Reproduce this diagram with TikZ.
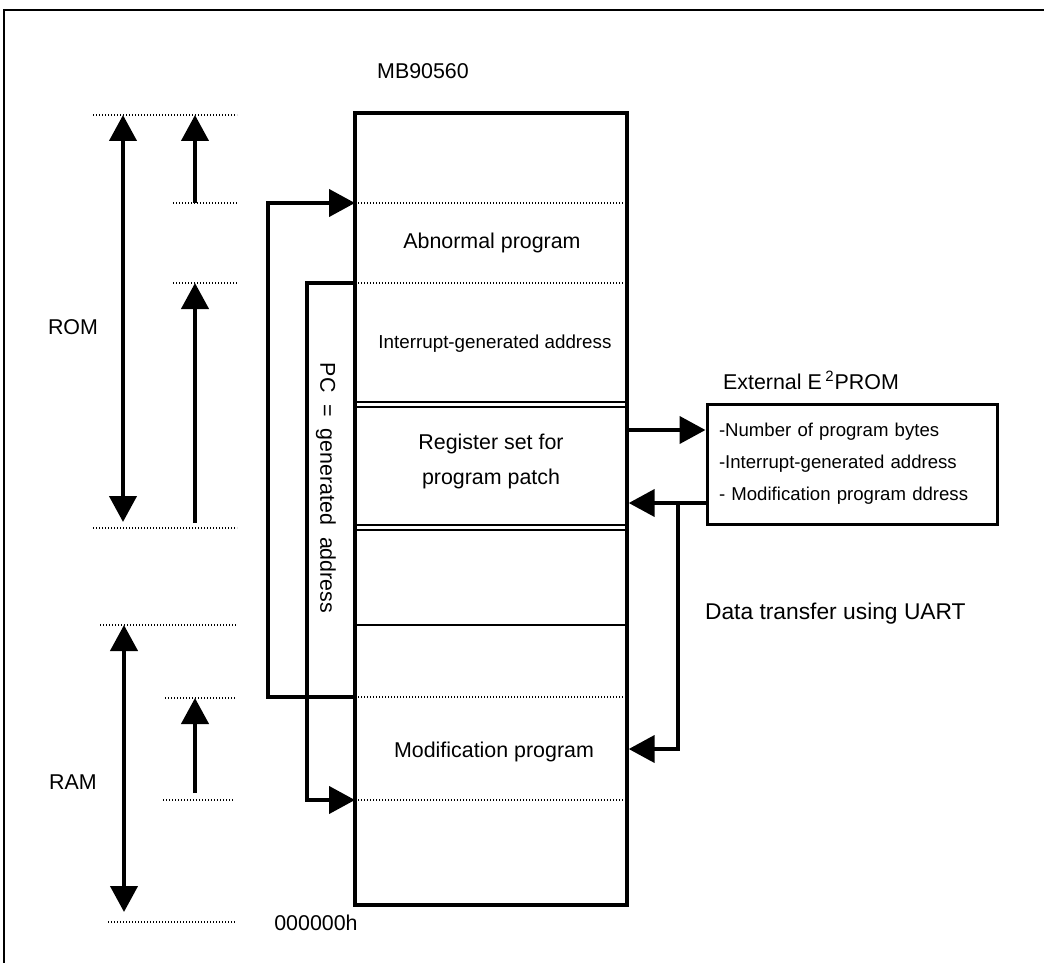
\documentclass[tikz,border=0pt]{standalone}
\usepackage{fontspec}
\setmainfont{Liberation Sans}
\usetikzlibrary{arrows.meta,positioning,calc}
\tikzset{>={Triangle[length=13pt,width=13.5pt]},bus/.style={line width=2.1pt,->},guide/.style={line width=0.6pt,dash pattern=on 0.6pt off 0.9pt},divider/.style={line width=1.3pt}}

\begin{document}
\begin{tikzpicture}[x=0.5pt,y=-0.5pt,font=\fontsize{10.7}{13}\selectfont,membox/.style={draw,line width=1.7pt,minimum width=136pt,minimum height=396pt,inner sep=0pt},ebox/.style={draw,line width=1.5pt,minimum width=145pt,minimum height=60pt,text width=133pt,align=left,inner xsep=6pt,font=\fontsize{9.3}{16}\selectfont},small/.style={font=\fontsize{9.4}{12}\selectfont}]
\useasboundingbox (0,0) rectangle (1044,963);
\draw[line width=1.2pt] (4,963)--(4,10)--(1044,10);
% memory map
\node[membox] (mem) at (491,509) {};
\node (chip) at (423,71) {MB90560};
\draw[guide] (355,203)--(627,203) (355,283)--(627,283) (355,697)--(627,697) (355,800)--(627,800);
\draw[divider] (355,402)--(627,402) (355,407)--(627,407) (355,525)--(627,525) (355,530)--(627,530);
\draw[line width=0.8pt] (355,625)--(627,625);
\node (abn) at (492,243) {Abnormal program};
\node[small] (intaddr) at (495,344) {Interrupt-generated address};
\node[align=center,font=\fontsize{10.7}{17.5}\selectfont] (regset) at (491,461) {Register set for\\program patch};
\node (modprog) at (494,752) {Modification program};
\node (zero) at (316,923) {000000h};
% ROM / RAM scale
\node (rom) at (73,327) {ROM};
\node (ram) at (73,782) {RAM};
\draw[guide] (93,115)--(237,115) (173,203)--(237,203) (173,283)--(237,283) (93,528)--(237,528);
\draw[guide] (100,625)--(236,625) (165,698)--(236,698) (163,800)--(233,800) (108,922)--(236,922);
\draw[bus,<->] (123,115)--(123,522);
\draw[bus] (195,203)--(195,115);
\draw[bus] (195,523)--(195,283);
\draw[bus,<->] (124,625)--(124,912);
\draw[bus] (195,793)--(195,698);
% jumps
\draw[bus] (355,697)--(268,697)--(268,203)--(355,203);
\draw[bus] (355,283)--(307,283)--(307,800)--(355,800);
\node[rotate=-90] (pc) at (326,488) {PC\ \ =\ \ generated\ \ address};
% external E2PROM
\node[ebox] (eprom) at (852,464) {-Number of program bytes\\-Interrupt-generated address\\- Modification program ddress};
\node (exlbl) at (811,380) {External E\,\textsuperscript{2}PROM};
\coordinate (txlvl) at (0,430);
\coordinate (rxlvl) at (0,503);
\coordinate (uartlvl) at (678,749);
\draw[bus] (mem.east|-txlvl)--(eprom.west|-txlvl);
\draw[bus] (eprom.west|-rxlvl)--(mem.east|-rxlvl);
\draw[bus] (uartlvl|-rxlvl)--(uartlvl)--(mem.east|-uartlvl);
\node[anchor=west,font=\fontsize{11.4}{13}\selectfont] (uart) at (698,614) {Data transfer using UART};
\end{tikzpicture}
\end{document}
